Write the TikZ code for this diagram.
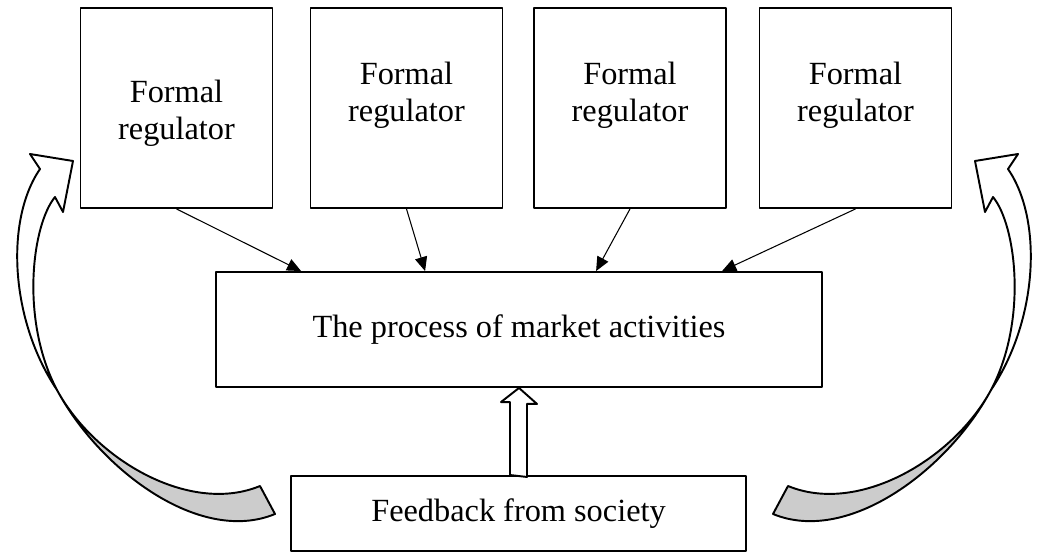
\documentclass[tikz,border=0pt]{standalone}
\usepackage{fontspec}
\setmainfont{Liberation Serif}
\usetikzlibrary{arrows.meta,calc}

\tikzset{
  regbox/.style={draw,line width=1.1pt,minimum width=3.84cm,minimum height=4cm,inner sep=0pt},
  regtext/.style={align=center,inner sep=0pt},
  procbox/.style={draw,line width=1.1pt,minimum width=12.12cm,minimum height=2.3cm},
  fbbox/.style={draw,line width=1.1pt,minimum width=9.1cm,minimum height=1.5cm},
  thinarrow/.style={line width=0.6pt,-{Triangle[length=8pt,width=7pt]}},
  hollowarrow/.style={line width=1.1pt,fill=white},
  bentarrow/.style={line width=1.1pt,fill=white},
  bentback/.style={line width=1.1pt,fill=gray!40}
}

\begin{document}
\begin{tikzpicture}[x=0.02cm,y=-0.02cm,join=round,font=\fontsize{18.4}{21}\selectfont]
\useasboundingbox (0,0) rectangle (1038,554);
% Regulators
\node[regbox] (r1) at (176.5,108) {};
\node[regbox] (r2) at (406.5,108) {};
\node[regbox] (r3) at (630,108) {};
\node[regbox] (r4) at (855.5,108) {};
\node[regtext] (t1) at (176.5,113) {Formal\\regulator};
\node[regtext] (t2) at (406.5,95) {Formal\\regulator};
\node[regtext] (t3) at (630,95) {Formal\\regulator};
\node[regtext] (t4) at (855.5,95) {Formal\\regulator};
% Market process and feedback
\node[procbox] (proc) at (519,329.5) {The process of market activities};
\node[fbbox] (fb) at (518.5,513.5) {Feedback from society};
% Regulator arrows
\draw[thinarrow] (r1.south) -- ($(proc.north west)+(86,0)$);
\draw[thinarrow] (r2.south) -- ($(proc.north west)+(210,0)$);
\draw[thinarrow] (r3.south) -- ($(proc.north west)+(381,0)$);
\draw[thinarrow] (r4.south) -- ($(proc.north west)+(507,0)$);
% Feedback arrow
\filldraw[hollowarrow] ($(fb.north)+(-8.5,0)$) -- ++(0,-73) -- ++(-9,0) -- (proc.south)
   -- ++(18,16) -- ++(-10,0) -- ++(0,73) -- cycle;
% Curved arrows back to the regulators
\foreach \s in {1,-1}{
  \begin{scope}[shift={(524,0)},xscale=\s,shift={(-524,0)}]
    \filldraw[bentback] (57,390) .. controls (100,470) and (200,545) .. (275,514)
       -- (260,486) .. controls (190,515) and (95,460) .. (57,390) -- cycle;
    \filldraw[bentarrow] (57,390) .. controls (10,320) and (5,220) .. (40,169)
       -- (30,154) -- (73,161) -- (63,212) -- (55,197)
       .. controls (32,225) and (20,320) .. (57,390) -- cycle;
  \end{scope}
}
\end{tikzpicture}
\end{document}
